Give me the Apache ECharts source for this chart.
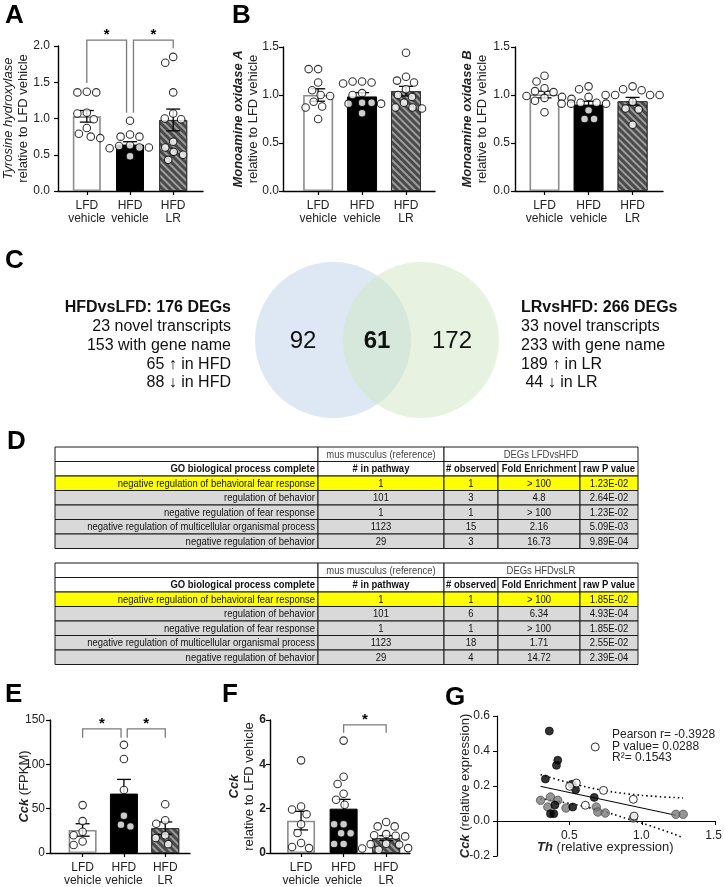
<!DOCTYPE html>
<html><head><meta charset="utf-8">
<script src="https://cdn.jsdelivr.net/npm/echarts@6/dist/echarts.min.js"></script>
<style>html,body{margin:0;padding:0;background:#fff}#c{width:725px;height:887px}</style>
</head><body><div id="c"></div>
<script>
// ================= DATA =================
const groups = ['LFD\nvehicle', 'HFD\nvehicle', 'HFD\nLR'];

// A: Tyrosine hydroxylase (relative to LFD vehicle)
const thLFD = [1.36, 1.36, 1.37, 1.08, 1.07, 0.99, 0.87, 0.79, 0.73, 0.75];
const thHFD = [0.97, 0.78, 0.75, 0.75, 0.62, 0.60, 0.63, 0.60, 0.59, 0.48];
const thLR  = [1.77, 1.85, 1.36, 1.00, 1.07, 0.99, 0.68, 0.54, 0.60, 0.50, 0.43];
const thMean = [1.03, 0.64, 0.98];
const thSem  = [0.08, 0.04, 0.15];

// B: Monoamine oxidase A
const maoaLFD = [1.27, 1.27, 1.13, 1.05, 1.00, 0.99, 0.93, 0.88, 0.87, 0.75];
const maoaHFD = [1.14, 1.12, 1.13, 1.14, 1.00, 1.02, 0.92, 0.91, 0.92, 0.91, 0.81];
const maoaLR  = [1.44, 1.15, 1.13, 1.19, 1.06, 1.00, 0.98, 0.92, 0.87, 0.86, 0.87];
const maoaMean = [1.00, 0.985, 1.04];
const maoaSem  = [0.065, 0.04, 0.05];

// B: Monoamine oxidase B
const maobLFD = [1.20, 1.14, 1.07, 1.03, 1.04, 0.98, 0.99, 0.97, 0.96, 0.94, 0.82];
const maobHFD = [1.06, 1.09, 0.98, 0.92, 0.91, 0.91, 0.92, 0.91, 0.84, 0.75, 0.75];
const maobLR  = [1.09, 1.06, 1.05, 1.00, 1.00, 1.00, 1.00, 0.93, 0.85, 0.86, 0.69];
const maobMean = [1.005, 0.90, 0.935];
const maobSem  = [0.035, 0.035, 0.04];

// C: Venn
const vennCounts = [92, 61, 172];
const vennLeftTitle = 'HFDvsLFD: 176 DEGs';
const vennLeftLines = ['23 novel transcripts', '153 with gene name', '65 \u2191 in HFD', '88 \u2193 in HFD'];
const vennRightTitle = 'LRvsHFD: 266 DEGs';
const vennRightLines = ['33 novel transcripts', '233 with gene name', '189 \u2191 in LR', ' 44 \u2193 in LR'];

// D: GO tables
const colHeads = ['GO biological process complete', '# in pathway', '# observed', 'Fold Enrichment', 'raw P value'];
const refHead = 'mus musculus (reference)';
const degHeads = ['DEGs LFDvsHFD', 'DEGs HFDvsLR'];
const goTerms = ['negative regulation of behavioral fear response', 'regulation of behavior',
  'negative regulation of fear response', 'negative regulation of multicellular organismal process',
  'negative regulation of behavior'];
const inPathway = ['1', '101', '1', '1123', '29'];
const observed1 = ['1', '3', '1', '15', '3'];
const fold1 = ['> 100', '4.8', '> 100', '2.16', '16.73'];
const pval1 = ['1.23E-02', '2.64E-02', '1.23E-02', '5.09E-03', '9.89E-04'];
const observed2 = ['1', '6', '1', '18', '4'];
const fold2 = ['> 100', '6.34', '> 100', '1.71', '14.72'];
const pval2 = ['1.85E-02', '4.93E-04', '1.85E-02', '2.55E-02', '2.39E-04'];

// E: Cck (FPKM)
const fpkmLFD = [54, 36, 24, 20, 9, 13];
const fpkmHFD = [122, 106, 71, 42, 30, 32];
const fpkmLR  = [55, 37, 33, 20, 17, 10];
const fpkmMean = [26, 67, 28];
const fpkmSem  = [7, 16, 7];

// F: Cck relative to LFD vehicle
const cckLFD = [4.18, 2.10, 1.96, 1.75, 1.30, 0.90, 0.45, 0.22, 0.27];
const cckHFD = [5.07, 3.44, 3.11, 2.67, 2.40, 2.18, 1.30, 1.30, 0.89, 0.89, 0.41, 0.41];
const cckLR  = [1.40, 1.20, 1.20, 0.85, 0.80, 0.78, 0.75, 0.40, 0.42, 0.38, 0.22, 0.20, 0.15];
const cckMean = [1.46, 2.0, 0.67];
const cckSem  = [0.42, 0.42, 0.11];

// significance brackets: [x1, x2, yTop, yLeftEnd, yRightEnd]
const sigA = [[0, 0.92, 2.08, 1.49, 1.08], [1.08, 2, 2.08, 1.08, 1.97]];
const sigE = [[0, 0.93, 140, 130, 130], [1.08, 2, 140, 130, 130]];
const sigF = [[1, 2, 5.78, 5.42, 5.42]];

// G: Cck vs Th scatter  [Th, Cck]
const gLFD = [[0.676, 0.423], [0.546, 0.217], [0.50, 0.198], [0.733, 0.175], [0.938, 0.124], [0.608, 0.090], [0.943, 0.028]];
const gHFD = [[0.36, 0.514], [0.418, 0.347], [0.409, 0.318], [0.333, 0.240], [0.516, 0.210], [0.541, 0.179],
  [0.669, 0.135], [0.398, 0.091], [0.521, 0.080], [0.368, 0.042], [0.391, 0.042]];
const gLR = [[0.30, 0.118], [0.368, 0.137], [0.35, 0.080], [0.418, 0.118], [0.475, 0.074], [0.683, 0.080],
  [0.694, 0.051], [0.745, 0.046], [0.938, 0.017], [1.231, 0.038], [1.281, 0.038]];
const gFit = [[0.30, 0.198], [1.23, 0.033]];
const gBandUpper = [[0.30, 0.265], [0.5, 0.218], [0.7, 0.18], [0.9, 0.155], [1.1, 0.14], [1.28, 0.132]];
const gBandLower = [[0.30, 0.128], [0.5, 0.10], [0.7, 0.062], [0.9, 0.012], [1.1, -0.04], [1.28, -0.095]];
const gStats = ['Pearson r= -0.3928', 'P value= 0.0288', 'R\u00b2= 0.1543'];

// ================= STYLE / LAYOUT =================
const FONT = '"Liberation Sans", Arial, sans-serif';
const TXT = '#222';

const grids = [], xAxes = [], yAxes = [], series = [], graphics = [];

function swarmOffsets(vals, pyu, D) {
  const idx = vals.map((v, i) => i).sort((a, b) => vals[b] - vals[a]);
  const placed = [], off = new Array(vals.length).fill(0);
  for (const i of idx) {
    const y = vals[i] * pyu;
    for (let k = 0; k < 400; k++) {
      const c = (k % 2 ? -1 : 1) * Math.ceil(k / 2) * 0.5;
      if (placed.every(p => (p[0] - c) ** 2 + (p[1] - y) ** 2 >= D * D)) { off[i] = c; placed.push([c, y]); break; }
    }
  }
  return off;
}

const barStyles = [
  { color: '#ffffff', borderColor: '#8c8c8c', borderWidth: 1.6 },
  { color: '#000000', borderColor: '#000000', borderWidth: 1 },
  { color: '#4a4a4a', borderColor: '#333333', borderWidth: 1,
    decal: { symbol: 'rect', symbolSize: 1, color: 'rgba(255,255,255,0.45)', dashArrayX: [1, 0], dashArrayY: [1.3, 2.2], rotation: Math.PI / 4 } }
];

function nameStyle(size) {
  return { fontSize: size, lineHeight: size + 2, color: TXT, fontFamily: FONT,
    rich: {
      i: { fontSize: size, fontStyle: 'italic', fontFamily: FONT, color: TXT, lineHeight: size + 2 },
      b: { fontSize: size, fontStyle: 'italic', fontWeight: 'bold', fontFamily: FONT, color: TXT, lineHeight: size + 2 }
    } };
}

function barPanel(cfg) {
  const gi = grids.length;
  grids.push({ left: cfg.left, top: cfg.top, width: cfg.width, height: cfg.height });
  xAxes.push({ gridIndex: gi, type: 'value', min: cfg.xmin, max: cfg.xmax, splitLine: { show: false },
    axisLine: { show: true, onZero: false, lineStyle: { color: '#000', width: 1.4 } },
    axisTick: { show: true, customValues: [0, 1, 2], length: 4, lineStyle: { color: '#000', width: 1.2 } },
    axisLabel: { customValues: [0, 1, 2], formatter: v => groups[Math.round(v)], fontSize: 12, lineHeight: 13,
      color: TXT, fontFamily: FONT, margin: 8 } });
  yAxes.push({ gridIndex: gi, type: 'value', min: 0, max: cfg.ymax, interval: cfg.interval, splitLine: { show: false },
    axisLine: { show: true, onZero: false, lineStyle: { color: '#000', width: 1.4 } },
    axisTick: { show: true, length: 4, lineStyle: { color: '#000', width: 1.2 } },
    axisLabel: { formatter: cfg.fmt, fontSize: 12, color: TXT, fontFamily: FONT, margin: cfg.labelMargin || 8,
      fontWeight: cfg.boldTicks ? 'bold' : 'normal' },
    name: cfg.name, nameLocation: 'middle', nameRotate: 90, nameGap: cfg.nameGap, nameMoveOverlap: false,
    nameTextStyle: nameStyle(cfg.nameSize || 13) });

  const pyu = cfg.height / cfg.ymax, pxu = cfg.width / (cfg.xmax - cfg.xmin);
  const pts = [];
  cfg.groupsData.forEach((vals, g) => {
    const off = swarmOffsets(vals, pyu, cfg.D || 9.5);
    vals.forEach((v, k) => pts.push([g + off[k] / pxu, v]));
  });
  series.push({ type: 'bar', xAxisIndex: gi, yAxisIndex: gi, barWidth: cfg.barW, z: 2,
    data: cfg.mean.map((m, g) => ({ value: [g, m], itemStyle: barStyles[g] })) });
  series.push({ type: 'custom', xAxisIndex: gi, yAxisIndex: gi, z: 3,
    data: cfg.mean.map((m, g) => [g, m, cfg.sem[g]]),
    renderItem: (params, api) => {
      const x = api.value(0), m = api.value(1), s = api.value(2);
      const t = api.coord([x, m + s]), b = api.coord([x, m - s]);
      const hw = 7, st = { stroke: '#000', lineWidth: 1.3 };
      return { type: 'group', children: [
        { type: 'line', shape: { x1: t[0], y1: t[1], x2: b[0], y2: b[1] }, style: st },
        { type: 'line', shape: { x1: t[0] - hw, y1: t[1], x2: t[0] + hw, y2: t[1] }, style: st },
        { type: 'line', shape: { x1: b[0] - hw, y1: b[1], x2: b[0] + hw, y2: b[1] }, style: st } ] };
    } });
  series.push({ type: 'scatter', xAxisIndex: gi, yAxisIndex: gi, z: 4, symbolSize: 7.5,
    itemStyle: { color: '#fff', borderColor: '#000', borderWidth: 1.1 }, data: pts });
  if (cfg.sig) {
    series.push({ type: 'custom', xAxisIndex: gi, yAxisIndex: gi, z: 5, clip: false,
      data: cfg.sig,
      renderItem: (params, api) => {
        const x1 = api.value(0), x2 = api.value(1), yt = api.value(2), yl = api.value(3), yr = api.value(4);
        const a = api.coord([x1, yl]), b = api.coord([x1, yt]), c = api.coord([x2, yt]), d = api.coord([x2, yr]);
        return { type: 'group', children: [
          { type: 'polyline', shape: { points: [a, b, c, d] }, style: { stroke: '#7a7a7a', lineWidth: 1.3, fill: null } },
          { type: 'text', x: (b[0] + c[0]) / 2, y: b[1] + 2,
            style: { text: '*', font: 'bold 15px ' + FONT, fill: '#000', align: 'center', verticalAlign: 'bottom' } } ] };
      } });
  }
}

const f1 = v => v.toFixed(1);
barPanel({ left: 57, top: 46, width: 146, height: 145, xmin: -0.667, xmax: 2.69, ymax: 2, interval: 0.5, barW: 28, fmt: f1,
  name: '{i|Tyrosine hydroxylase}\nrelative to LFD vehicle', nameGap: 27,
  groupsData: [thLFD, thHFD, thLR], mean: thMean, sem: thSem, sig: sigA });
barPanel({ left: 283, top: 47, width: 152, height: 144, xmin: -0.8, xmax: 2.66, ymax: 1.5, interval: 0.5, barW: 30, fmt: f1,
  labelMargin: 4, name: '{b|Monoamine oxidase A}\nrelative to LFD vehicle', nameGap: 22,
  groupsData: [maoaLFD, maoaHFD, maoaLR], mean: maoaMean, sem: maoaSem });
barPanel({ left: 515, top: 47, width: 148, height: 144, xmin: -0.67, xmax: 2.69, ymax: 1.5, interval: 0.5, barW: 30, fmt: f1,
  labelMargin: 5, name: '{b|Monoamine oxidase B}\nrelative to LFD vehicle', nameGap: 25.5,
  groupsData: [maobLFD, maobHFD, maobLR], mean: maobMean, sem: maobSem });
barPanel({ left: 50, top: 720, width: 140, height: 136, xmin: -0.79, xmax: 2.6, ymax: 150, interval: 50, barW: 28,
  fmt: v => String(v), labelMargin: 5, name: '{b|Cck} (FPKM)', nameGap: 18.5,
  groupsData: [fpkmLFD, fpkmHFD, fpkmLR], mean: fpkmMean, sem: fpkmSem, sig: sigE });
barPanel({ left: 270, top: 720, width: 140, height: 135, xmin: -0.73, xmax: 2.56, ymax: 6, interval: 2, barW: 28,
  fmt: v => String(v), boldTicks: true, labelMargin: 4, name: '{b|Cck}\nrelative to LFD vehicle', nameGap: 13,
  groupsData: [cckLFD, cckHFD, cckLR], mean: cckMean, sem: cckSem, sig: sigF });

// ---- G scatter ----
(function () {
  const gi = grids.length;
  grids.push({ left: 497, top: 716, width: 218, height: 140 });
  xAxes.push({ gridIndex: gi, type: 'value', min: 0, max: 1.5, interval: 0.5, splitLine: { show: false },
    axisLine: { show: true, onZero: true, lineStyle: { color: '#000', width: 1.2 } },
    axisTick: { show: true, length: 4, lineStyle: { color: '#000' } },
    axisLabel: { show: false } });
  yAxes.push({ gridIndex: gi, type: 'value', min: -0.2, max: 0.6, interval: 0.2, splitLine: { show: false },
    axisLine: { show: true, onZero: false, lineStyle: { color: '#000', width: 1.2 } },
    axisTick: { show: true, length: 4, lineStyle: { color: '#000' } },
    axisLabel: { formatter: v => v.toFixed(1), fontSize: 12, color: TXT, fontFamily: FONT, margin: 7 },
    name: '{b|Cck} (relative expression)', nameLocation: 'middle', nameRotate: 90, nameGap: 24.5,
    nameMoveOverlap: false, nameTextStyle: nameStyle(13) });
  const base = { xAxisIndex: gi, yAxisIndex: gi };
  series.push(Object.assign({ type: 'line', data: gBandUpper, smooth: true, symbol: 'none', z: 2,
    lineStyle: { color: '#000', width: 1.6, type: [1.5, 3] } }, base));
  series.push(Object.assign({ type: 'line', data: gBandLower, smooth: true, symbol: 'none', z: 2,
    lineStyle: { color: '#000', width: 1.6, type: [1.5, 3] } }, base));
  series.push(Object.assign({ type: 'line', data: gFit, symbol: 'none', z: 2,
    lineStyle: { color: '#000', width: 1 } }, base));
  series.push(Object.assign({ type: 'scatter', data: gLR, symbolSize: 8.5, z: 4,
    itemStyle: { color: '#7b7b7b', borderColor: '#3a3a3a', borderWidth: 0.8 } }, base));
  series.push(Object.assign({ type: 'scatter', data: gHFD, symbolSize: 8, z: 4,
    itemStyle: { color: '#000', borderColor: '#000', borderWidth: 0.8 } }, base));
  series.push(Object.assign({ type: 'scatter', data: gLFD, symbolSize: 8, z: 4,
    itemStyle: { color: '#fff', borderColor: '#000', borderWidth: 1 } }, base));
  // label axis for G (sits on the zero line: upper part of the plot, 0..0.6)
  const gl = grids.length;
  grids.push({ left: 497, top: 716, width: 218, height: 104.75 });
  xAxes.push({ gridIndex: gl, type: 'value', min: 0, max: 1.5, interval: 0.5, splitLine: { show: false },
    axisLine: { show: false }, axisTick: { show: false },
    axisLabel: { showMinLabel: false, formatter: v => v.toFixed(1), fontSize: 12, color: TXT, fontFamily: FONT, margin: 9 },
    name: '{b|Th} (relative expression)', nameLocation: 'middle', nameGap: 19, nameMoveOverlap: false, nameTextStyle: nameStyle(13) });
  yAxes.push({ gridIndex: gl, type: 'value', min: 0, max: 0.6, show: false });
})();

// ---- D tables (custom series on hidden axes) ----
const TBL_COLS = [0, 263, 389, 443, 525, 583];
function tablePanel(top, headDeg, obs, fold, pv) {
  const gi = grids.length;
  grids.push({ left: 55, top: top, width: 583, height: 101.5 });
  xAxes.push({ gridIndex: gi, type: 'value', min: 0, max: 583, show: false });
  yAxes.push({ gridIndex: gi, type: 'value', min: 0, max: 7, inverse: true, show: false });
  const cells = [];
  const add = (c0, c1, r, text, opt) => cells.push(Object.assign({ c0, c1, r, text }, opt || {}));
  add(0, 1, 0, '', { fill: '#fff' });
  add(1, 2, 0, refHead, { fill: '#fff', color: '#444' });
  add(2, 5, 0, headDeg, { fill: '#fff', color: '#444' });
  colHeads.forEach((h, c) => add(c, c + 1, 1, h, { fill: '#fff', bold: true, align: c === 0 ? 'right' : 'center' }));
  goTerms.forEach((t, k) => {
    const fill = k === 0 ? '#ffff00' : '#d9d9d9';
    const row = [t, inPathway[k], obs[k], fold[k], pv[k]];
    row.forEach((v, c) => add(c, c + 1, k + 2, v, { fill, align: c === 0 ? 'right' : 'center' }));
  });
  series.push({ type: 'custom', xAxisIndex: gi, yAxisIndex: gi, z: 2, clip: false,
    encode: { x: [0, 2], y: [1, 3] },
    data: cells.map(c => [TBL_COLS[c.c0], c.r, TBL_COLS[c.c1], c.r + 1]),
    renderItem: (params, api) => {
      const c = cells[params.dataIndex];
      const p0 = api.coord([api.value(0), api.value(1)]), p1 = api.coord([api.value(2), api.value(3)]);
      const x = p0[0], y = p0[1], w = p1[0] - p0[0], h = p1[1] - p0[1];
      const al = c.align || 'center';
      return { type: 'group', children: [
        { type: 'rect', shape: { x, y, width: w, height: h }, style: { fill: c.fill, stroke: '#1a1a1a', lineWidth: 1 } },
        { type: 'text', x: al === 'right' ? x + w - 3 : x + w / 2, y: y + h / 2 + 0.5, scaleX: 0.86, scaleY: 1,
          style: { text: c.text, align: al, verticalAlign: 'middle', fill: c.color || '#111',
            font: (c.bold ? 'bold ' : '') + '11px ' + FONT } } ] };
    } });
}
tablePanel(447, degHeads[0], observed1, fold1, pval1);
tablePanel(563, degHeads[1], observed2, fold2, pval2);

// ---- C Venn & texts, panel letters, stats ----
graphics.push({ type: 'circle', shape: { cx: 333, cy: 340, r: 78 }, style: { fill: '#dde8f4' }, z: 1 });
graphics.push({ type: 'circle', shape: { cx: 421, cy: 340, r: 78 }, style: { fill: 'rgba(208,229,193,0.5)' }, z: 1 });
const vennX = [303, 377, 452];
vennCounts.forEach((n, i) => graphics.push({ type: 'text', x: vennX[i], y: 341, z: 3,
  style: { text: String(n), font: (i === 1 ? 'bold ' : '') + '24px ' + FONT, fill: '#111', align: 'center', verticalAlign: 'middle' } }));
const lineY = [308, 327, 346, 365, 383];
[vennLeftTitle].concat(vennLeftLines).forEach((t, i) => graphics.push({ type: 'text', x: 231, y: lineY[i], z: 3,
  style: { text: t, font: (i === 0 ? 'bold ' : '') + '16px ' + FONT, fill: '#111', align: 'right', verticalAlign: 'middle' } }));
[vennRightTitle].concat(vennRightLines).forEach((t, i) => graphics.push({ type: 'text', x: 521, y: lineY[i], z: 3,
  style: { text: t, font: (i === 0 ? 'bold ' : '') + '16px ' + FONT, fill: '#111', align: 'left', verticalAlign: 'middle' } }));

const letters = [['A', 5, 16], ['B', 232, 16], ['C', 5, 261], ['D', 7, 442], ['E', 5, 695], ['F', 222, 695], ['G', 445, 698]];
letters.forEach(l => graphics.push({ type: 'text', x: l[1], y: l[2], z: 3,
  style: { text: l[0], font: 'bold 26px ' + FONT, fill: '#000', align: 'left', verticalAlign: 'middle' } }));

gStats.forEach((t, i) => graphics.push({ type: 'text', x: 612, y: 735 + i * 11.5, z: 3,
  style: { text: t, font: '12px ' + FONT, fill: TXT, align: 'left', verticalAlign: 'middle' } }));

const chart = echarts.init(document.getElementById('c'));
chart.setOption({ animation: false, backgroundColor: '#fff',
  grid: grids, xAxis: xAxes, yAxis: yAxes, series: series, graphic: graphics });
</script></body></html>
